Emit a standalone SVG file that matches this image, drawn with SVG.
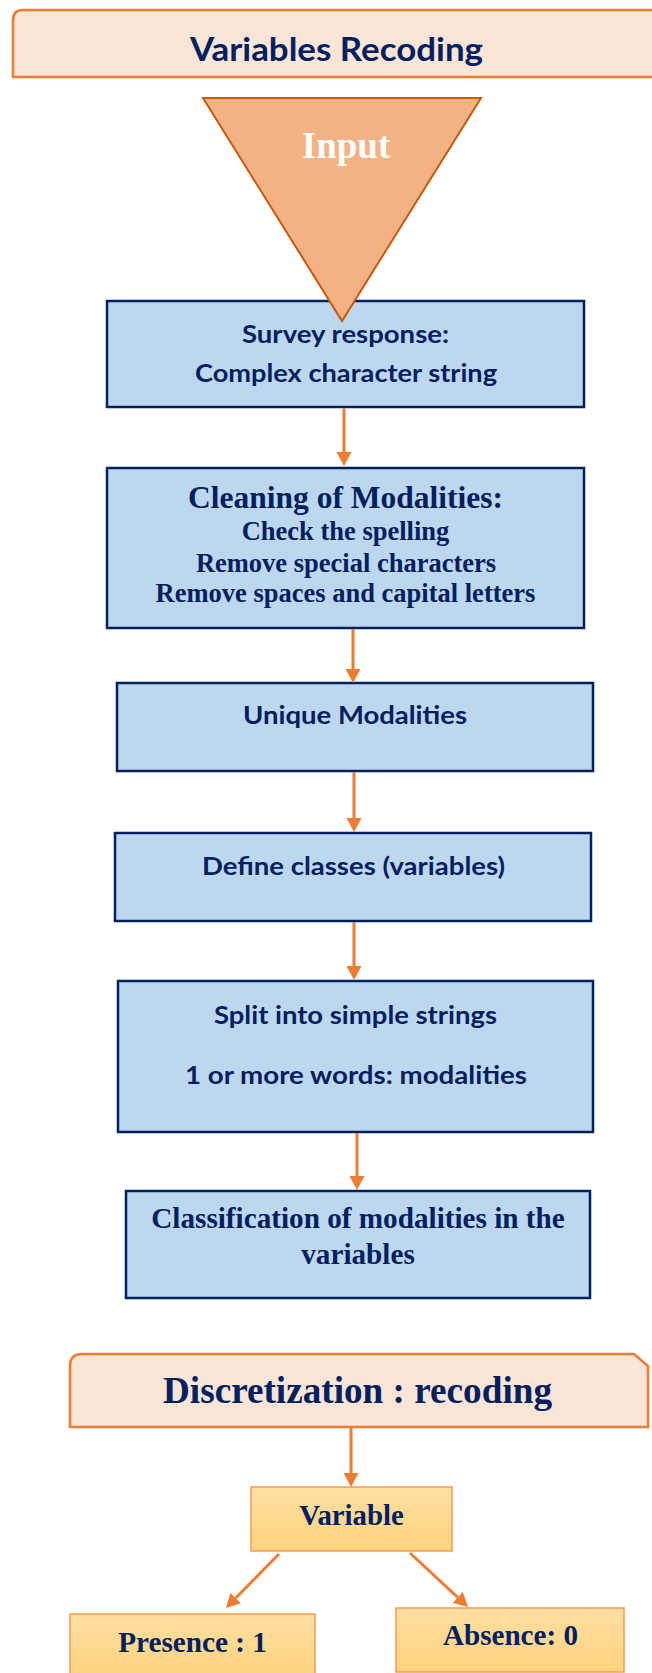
<svg xmlns="http://www.w3.org/2000/svg" width="652" height="1673" viewBox="0 0 652 1673">
<style>
.hdr{fill:#FBE5D6;stroke:#ED7D31;stroke-width:2.6}
.blue{fill:#BDD7EE;stroke:#002060;stroke-width:2.5}
.org{fill:url(#og);stroke:#F4A15A;stroke-width:1.6}
.sans{font-family:Lato,"Open Sans","Liberation Sans",sans-serif;font-weight:bold;fill:#002060;text-anchor:middle}
.serif{font-family:"Liberation Serif","Times New Roman",serif;font-weight:bold;fill:#002060;text-anchor:middle}
.conn{stroke:#ED7D31;stroke-width:3;fill:none;marker-end:url(#ah)}
</style>
<defs>
<linearGradient id="og" x1="0" y1="0" x2="0" y2="1">
<stop offset="0" stop-color="#FFDFA2"/>
<stop offset="1" stop-color="#FFD37E"/>
</linearGradient>
<marker id="ah" viewBox="0 -8 14 16" refX="0" refY="0" markerUnits="userSpaceOnUse" markerWidth="14" markerHeight="16" orient="auto">
<path d="M0,-7.5 L14,0 L0,7.5 Z" fill="#ED7D31"/>
</marker>
</defs>

<g id="header-variables-recoding">
<path class="hdr" d="M13,20 Q13,10 23,10 L660,10 L675,25 L675,77 L13,77 Z"/>
<text class="sans" x="336.5" y="61" font-size="33" textLength="293" lengthAdjust="spacingAndGlyphs">Variables Recoding</text>
</g>

<g id="survey-response">
<rect class="blue" x="107" y="301" width="477" height="106"/>
<text class="sans" x="345.5" y="343" font-size="25" textLength="207" lengthAdjust="spacingAndGlyphs">Survey response:</text>
<text class="sans" x="346" y="382" font-size="25" textLength="302" lengthAdjust="spacingAndGlyphs">Complex character string</text>
</g>

<g id="input">
<polygon points="203,98 481,98 342,321" fill="#F4B183" stroke="#C55A11" stroke-width="2"/>
<text class="serif" x="346" y="158" font-size="37" style="fill:#FFFFFF">Input</text>
</g>

<g id="cleaning">
<rect class="blue" x="107" y="468" width="477" height="160"/>
<text class="serif" x="345.5" y="508" font-size="31.5">Cleaning of Modalities:</text>
<text class="serif" x="345.5" y="540" font-size="26.5">Check the spelling</text>
<text class="serif" x="346" y="572" font-size="26.5">Remove special characters</text>
<text class="serif" x="345.5" y="602" font-size="26.5">Remove spaces and capital letters</text>
</g>

<g id="unique-modalities">
<rect class="blue" x="117" y="683" width="476" height="88"/>
<text class="sans" x="355" y="724" font-size="25" textLength="224" lengthAdjust="spacingAndGlyphs">Unique Modalities</text>
</g>

<g id="define-classes">
<rect class="blue" x="115" y="833" width="476" height="88"/>
<text class="sans" x="353.5" y="875" font-size="25" textLength="303" lengthAdjust="spacingAndGlyphs">Define classes (variables)</text>
</g>

<g id="split-strings">
<rect class="blue" x="118" y="981" width="475" height="151"/>
<text class="sans" x="355.5" y="1024" font-size="25" textLength="283" lengthAdjust="spacingAndGlyphs">Split into simple strings</text>
<text class="sans" x="356" y="1084" font-size="25" textLength="342" lengthAdjust="spacingAndGlyphs">1 or more words: modalities</text>
</g>

<g id="classification">
<rect class="blue" x="126" y="1191" width="464" height="107"/>
<text class="serif" x="358" y="1228" font-size="29.2">Classification of modalities in the</text>
<text class="serif" x="358" y="1264" font-size="29.2">variables</text>
</g>

<g id="header-discretization">
<path class="hdr" d="M70,1366 Q70,1354 82,1354 L634,1354 L648,1366 L648,1427 L70,1427 Z"/>
<text class="serif" x="357.5" y="1403" font-size="37.2">Discretization : recoding</text>
</g>

<g id="variable">
<rect class="org" x="251" y="1487" width="201" height="64"/>
<text class="serif" x="351.5" y="1525" font-size="28.8">Variable</text>
</g>

<g id="presence">
<rect class="org" x="70" y="1614" width="245" height="64"/>
<text class="serif" x="192.5" y="1652" font-size="29.2">Presence : 1</text>
</g>

<g id="absence">
<rect class="org" x="396" y="1608" width="228" height="64"/>
<text class="serif" x="510.5" y="1645" font-size="29.1">Absence: 0</text>
</g>

<g id="connectors">
<line class="conn" x1="344" y1="408" x2="344" y2="452"/>
<line class="conn" x1="353" y1="629" x2="353" y2="669"/>
<line class="conn" x1="354" y1="772" x2="354" y2="818"/>
<line class="conn" x1="354" y1="922" x2="354" y2="966"/>
<line class="conn" x1="357" y1="1133" x2="357" y2="1176"/>
<line class="conn" x1="351" y1="1428" x2="351" y2="1473"/>
<line class="conn" x1="279" y1="1554" x2="235.8" y2="1598"/>
<line class="conn" x1="410" y1="1553" x2="457.7" y2="1597.4"/>
</g>
</svg>
